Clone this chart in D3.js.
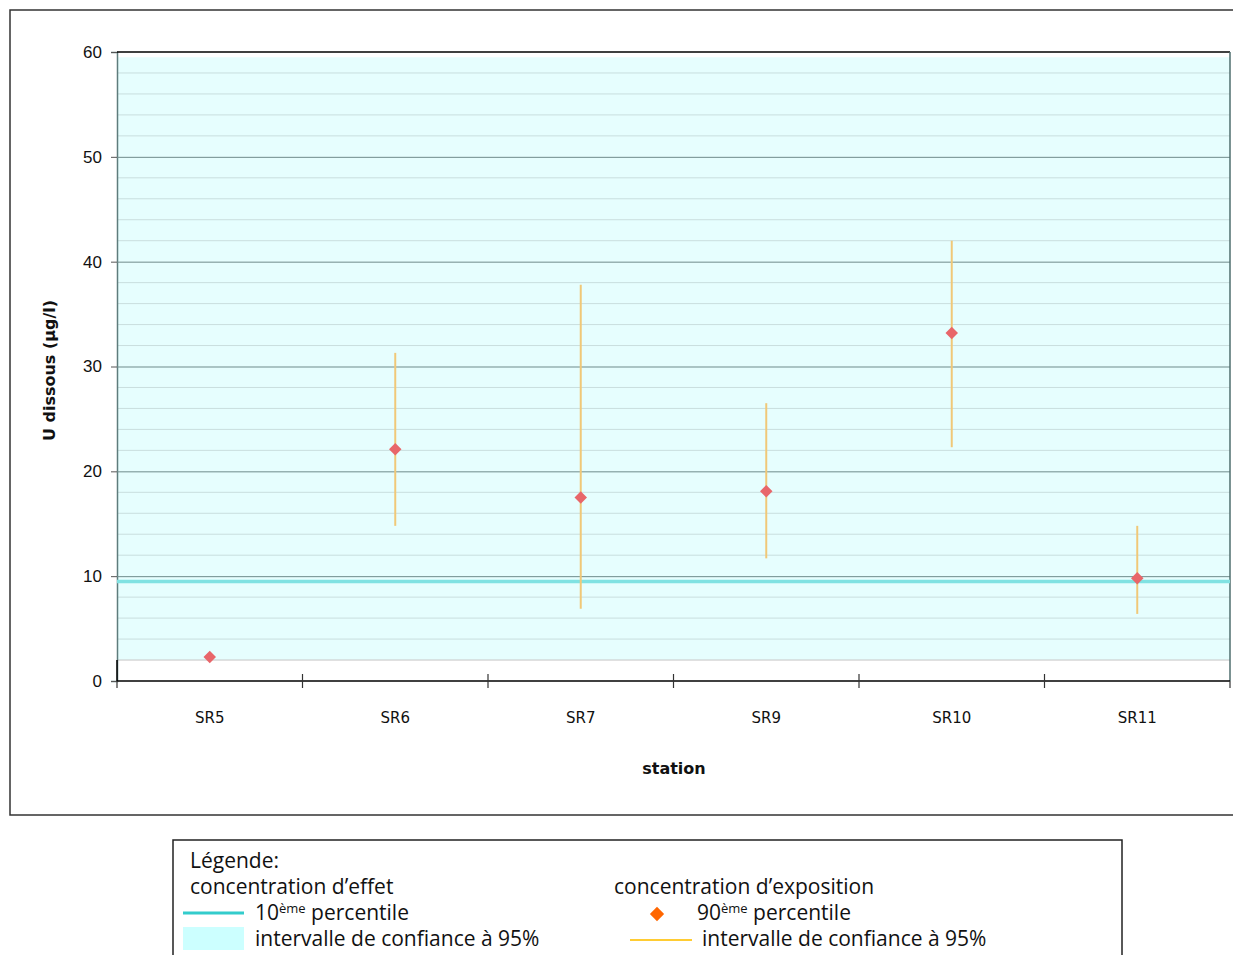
<!DOCTYPE html>
<html>
<head>
<meta charset="utf-8">
<script src="https://cdn.jsdelivr.net/npm/d3@7"></script>
<style>
  body { margin: 0; background: #fff; }
  svg { display: block; font-family: "DejaVu Sans", sans-serif; }
</style>
</head>
<body>
<svg id="chart"></svg>
<script>
// data
const stations = ["SR5", "SR6", "SR7", "SR9", "SR10", "SR11"];
const p90 = [2.3, 22.1, 17.5, 18.1, 33.2, 9.8];
const ciLow = [2.2, 14.8, 6.9, 11.7, 22.3, 6.4];
const ciHigh = [2.4, 31.3, 37.8, 26.5, 42.0, 14.8];
const effectP10 = 9.5;
const effectCI = [2.0, 59.5];
const yTicks = [0, 10, 20, 30, 40, 50, 60];
const yMinor = d3.range(2, 60, 2);

const width = 1233;
const height = 955;
const marginTop = 52;
const marginRight = 3;
const marginBottom = 274;
const marginLeft = 117;

const svg = d3.select("#chart")
    .attr("width", width)
    .attr("height", height);

// outer frame
svg.append("rect")
    .attr("x", 10).attr("y", 10)
    .attr("width", 1240).attr("height", 805)
    .attr("fill", "none")
    .attr("stroke", "#333")
    .attr("stroke-width", 1.5);

const x = d3.scaleBand()
    .domain(stations)
    .range([marginLeft, width - marginRight]);

const y = d3.scaleLinear()
    .domain([0, 60])
    .range([height - marginBottom, marginTop]);

// effect concentration confidence band
svg.append("rect")
    .attr("x", marginLeft)
    .attr("y", y(effectCI[1]))
    .attr("width", width - marginRight - marginLeft)
    .attr("height", y(effectCI[0]) - y(effectCI[1]))
    .attr("fill", "#e6fefe");

// minor gridlines
svg.append("g")
    .selectAll("line")
    .data(yMinor.filter(d => d % 10 !== 0))
    .join("line")
    .attr("x1", marginLeft)
    .attr("x2", width - marginRight)
    .attr("y1", d => y(d))
    .attr("y2", d => y(d))
    .attr("stroke", d => d === 2 ? "#c6c6c6" : "#c9dede")
    .attr("stroke-width", 1);

// y axis with major gridlines
svg.append("g")
    .attr("transform", `translate(${marginLeft},0)`)
    .call(d3.axisLeft(y).tickValues(yTicks).tickSize(6).tickPadding(9))
    .call(g => g.select(".domain").attr("stroke", "#5e7c7c").attr("stroke-width", 1.5))
    .call(g => g.selectAll(".tick line").attr("stroke", "#555"))
    .call(g => g.selectAll(".tick text")
        .attr("font-size", 17)
        .attr("fill", "#111"))
    .call(g => g.selectAll(".tick").filter(d => d > 0 && d < 60).append("line")
        .attr("x2", width - marginRight - marginLeft)
        .attr("stroke", "#6f8b8b")
        .attr("stroke-width", 1));

// black segment of left axis below the band, and top border
svg.append("line")
    .attr("x1", marginLeft).attr("x2", marginLeft)
    .attr("y1", y(effectCI[0])).attr("y2", y(0))
    .attr("stroke", "#000").attr("stroke-width", 1.5);
svg.append("line")
    .attr("x1", marginLeft).attr("x2", width - marginRight)
    .attr("y1", y(60)).attr("y2", y(60))
    .attr("stroke", "#000").attr("stroke-width", 1.5);
svg.append("line")
    .attr("x1", width - marginRight).attr("x2", width - marginRight)
    .attr("y1", y(60)).attr("y2", y(0))
    .attr("stroke", "#4f6e6e").attr("stroke-width", 1.5);

// x axis: ticks on category boundaries
const xAxisG = svg.append("g")
    .attr("transform", `translate(0,${y(0)})`);
xAxisG.append("line")
    .attr("x1", marginLeft).attr("x2", width - marginRight)
    .attr("stroke", "#000").attr("stroke-width", 1.5);
xAxisG.selectAll(".bt")
    .data(stations.concat([null]))
    .join("line")
    .attr("class", "bt")
    .attr("x1", (d, i) => i < stations.length ? x(d) : x(stations[i - 1]) + x.bandwidth())
    .attr("x2", (d, i) => i < stations.length ? x(d) : x(stations[i - 1]) + x.bandwidth())
    .attr("y1", (d, i) => i === 0 || i === stations.length ? 0 : -7)
    .attr("y2", 7)
    .attr("stroke", "#333")
    .attr("stroke-width", 1.2);
xAxisG.selectAll("text")
    .data(stations)
    .join("text")
    .attr("x", d => x(d) + x.bandwidth() / 2)
    .attr("y", 42)
    .attr("text-anchor", "middle")
    .attr("font-size", 15)
    .attr("fill", "#111")
    .text(d => d);

// axis titles
svg.append("text")
    .attr("x", 674).attr("y", 774)
    .attr("text-anchor", "middle")
    .attr("font-size", 16)
    .attr("font-weight", "bold")
    .attr("fill", "#111")
    .text("station");
svg.append("text")
    .attr("transform", `translate(55,${y(30) + 4}) rotate(-90)`)
    .attr("text-anchor", "middle")
    .attr("font-size", 16)
    .attr("font-weight", "bold")
    .attr("fill", "#111")
    .text("U dissous (µg/l)");

// 10th percentile of effect concentration
svg.append("line")
    .attr("x1", marginLeft).attr("x2", width - marginRight)
    .attr("y1", y(effectP10)).attr("y2", y(effectP10))
    .attr("stroke", "#80e2e2")
    .attr("stroke-width", 3.5);

// exposure confidence intervals
svg.append("g")
    .selectAll("line")
    .data(stations)
    .join("line")
    .attr("x1", d => x(d) + x.bandwidth() / 2)
    .attr("x2", d => x(d) + x.bandwidth() / 2)
    .attr("y1", (d, i) => y(ciLow[i]))
    .attr("y2", (d, i) => y(ciHigh[i]))
    .attr("stroke", "#f0c878")
    .attr("stroke-width", 2);

// 90th percentile markers
svg.append("g")
    .selectAll("path")
    .data(stations)
    .join("path")
    .attr("transform", (d, i) => `translate(${x(d) + x.bandwidth() / 2},${y(p90[i])})`)
    .attr("d", d3.symbol(d3.symbolDiamond2, 100))
    .attr("fill", "#e8666a");

// legend
const legend = svg.append("g").attr("font-family", "'Open Sans', sans-serif").attr("font-size", 21).attr("fill", "#111");
legend.append("rect")
    .attr("x", 173).attr("y", 840)
    .attr("width", 949).attr("height", 140)
    .attr("fill", "none")
    .attr("stroke", "#222")
    .attr("stroke-width", 1.5);
legend.append("text").attr("x", 190).attr("y", 868).text("Légende:");
legend.append("text").attr("x", 190).attr("y", 894).text("concentration d\u2019effet");
legend.append("text").attr("x", 614).attr("y", 894).text("concentration d\u2019exposition");

legend.append("line")
    .attr("x1", 183).attr("x2", 244).attr("y1", 913).attr("y2", 913)
    .attr("stroke", "#33cccc").attr("stroke-width", 3);
const t1 = legend.append("text").attr("x", 255).attr("y", 920);
t1.append("tspan").text("10");
t1.append("tspan").attr("font-size", 13).attr("dy", -7).text("ème");
t1.append("tspan").attr("dy", 7).text(" percentile");

legend.append("rect")
    .attr("x", 183).attr("y", 927).attr("width", 61).attr("height", 23)
    .attr("fill", "#ccffff");
legend.append("text").attr("x", 255).attr("y", 946).text("intervalle de confiance à 95%");

legend.append("path")
    .attr("transform", "translate(657,914)")
    .attr("d", d3.symbol(d3.symbolDiamond2, 130))
    .attr("fill", "#ff6600");
const t2 = legend.append("text").attr("x", 697).attr("y", 920);
t2.append("tspan").text("90");
t2.append("tspan").attr("font-size", 13).attr("dy", -7).text("ème");
t2.append("tspan").attr("dy", 7).text(" percentile");

legend.append("line")
    .attr("x1", 630).attr("x2", 692).attr("y1", 940).attr("y2", 940)
    .attr("stroke", "#ffcc33").attr("stroke-width", 2);
legend.append("text").attr("x", 702).attr("y", 946).text("intervalle de confiance à 95%");
</script>
</body>
</html>
